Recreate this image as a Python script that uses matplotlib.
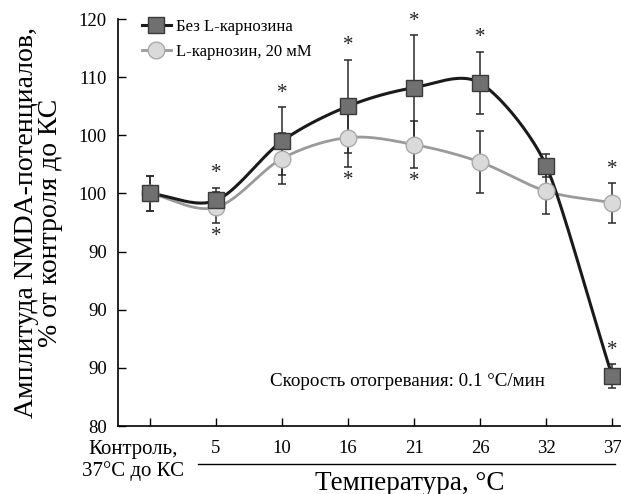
import numpy as np
import matplotlib
matplotlib.use('Agg')
import matplotlib.pyplot as plt
import matplotlib.transforms as mtransforms
from matplotlib.lines import Line2D

plt.rcParams['font.family'] = ['Liberation Serif', 'DejaVu Serif']

# data (in axis units)
temps = ['Контроль,\n37°C до КС', '5', '10', '16', '21', '26', '32', '37']
y_ticks = [80, 85, 90, 95, 100, 105, 110, 115]
y_tick_labels = ['80', '90', '90', '90', '100', '100', '110', '120']

no_carnosine = [100.0, 99.4, 104.5, 107.5, 109.1, 109.5, 102.4, 84.3]
no_carnosine_err = [1.5, 1.1, 2.9, 4.0, 4.5, 2.7, 1.0, 1.0]
carnosine = [100.0, 98.8, 103.0, 104.8, 104.2, 102.7, 100.2, 99.2]
carnosine_err = [1.5, 1.3, 2.2, 2.5, 2.0, 2.7, 2.0, 1.7]

stars_above_nc = [1, 2, 3, 4, 5, 7]
stars_above_c = [7]
stars_below_c = [1, 3, 4]


def smooth(xs, ys, sx=66.0, sy=11.63, n=40):
    # smoothed line like a spreadsheet chart: cubic bezier per segment,
    # control arms limited by the shorter neighbouring segment
    p = np.column_stack([np.asarray(xs, float) * sx, np.asarray(ys, float) * sy])
    k = len(p)
    d = np.linalg.norm(np.diff(p, axis=0), axis=1)
    tang = np.zeros_like(p)
    arm = np.zeros(k)
    for i in range(k):
        if i == 0:
            v = p[1] - p[0]
            arm[i] = d[0] / 3
        elif i == k - 1:
            v = p[-1] - p[-2]
            arm[i] = d[-1] / 3
        else:
            v = p[i + 1] - p[i - 1]
            arm[i] = min(d[i - 1], d[i]) / 3
        tang[i] = v / np.linalg.norm(v)
    out = []
    t = np.linspace(0, 1, n)[:, None]
    for i in range(k - 1):
        c1 = p[i] + tang[i] * arm[i]
        c2 = p[i + 1] - tang[i + 1] * arm[i + 1]
        seg = ((1 - t)**3 * p[i] + 3 * (1 - t)**2 * t * c1
               + 3 * (1 - t) * t**2 * c2 + t**3 * p[i + 1])
        out.append(seg)
    out = np.vstack(out)
    return out[:, 0] / sx, out[:, 1] / sy


fig = plt.figure(figsize=(6.21, 4.94), dpi=100)
ax = fig.add_axes([118 / 621, 1 - 426 / 494, 502 / 621, 407 / 494])

x = np.arange(len(temps))

c_dark = '#1a1a1a'
c_gray = '#9a9a9a'

# error bars first
ax.errorbar(x, carnosine, yerr=carnosine_err, fmt='none', ecolor='#2a2a2a',
            elinewidth=1.1, capsize=3.2, capthick=1.1, zorder=2)
ax.errorbar(x, no_carnosine, yerr=no_carnosine_err, fmt='none', ecolor='#2a2a2a',
            elinewidth=1.1, capsize=3.2, capthick=1.1, zorder=2)

sx, sy = smooth(x, carnosine)
ax.plot(sx, sy, color=c_gray, lw=2, zorder=3)
sx, sy = smooth(x, no_carnosine)
ax.plot(sx, sy, color=c_dark, lw=2.2, zorder=4)

ax.plot(x, carnosine, 'o', ms=12, mfc='#dadada', mec='#aaaaaa', mew=1, zorder=5)
ax.plot(x, no_carnosine, 's', ms=11, mfc='#707070', mec='#3a3a3a', mew=1, zorder=6)


# significance stars
def star(i, val, sign):
    ax.annotate('*', (x[i], val), xytext=(0, 10 * sign), textcoords='offset points',
                ha='center', va='center', fontsize=15, color='#222222')


for i in stars_above_nc:
    star(i, no_carnosine[i] + no_carnosine_err[i], 1)
for i in stars_above_c:
    star(i, carnosine[i] + carnosine_err[i], 1)
for i in stars_below_c:
    star(i, carnosine[i] - carnosine_err[i], -1)

ax.set_xlim(-0.485, 7.12)
ax.set_ylim(80, 115)
ax.set_yticks(y_ticks)
ax.set_yticklabels(y_tick_labels)
ax.set_xticks(x)
ax.set_xticklabels(temps)
ax.tick_params(direction='in', length=6, width=1, colors='black')
ax.tick_params(axis='x', pad=10, labelsize=13.5)
ax.tick_params(axis='y', pad=8, labelsize=13.5)
for s in ['top', 'right']:
    ax.spines[s].set_visible(False)
for s in ['left', 'bottom']:
    ax.spines[s].set_linewidth(1.2)

first = ax.get_xticklabels()[0]
first.set_fontsize(15)
first.set_multialignment('center')
first.set_linespacing(1.15)
first.set_transform(first.get_transform() + mtransforms.ScaledTranslation(-17 / 100, 0, fig.dpi_scale_trans))

ax.set_ylabel('Амплитуда NMDA-потенциалов,\n% от контроля до КС', fontsize=20, linespacing=0.95)
ax.yaxis.set_label_coords(-0.11, 0.5)

fig.text(410 / 621, 1 - 483 / 494, 'Температура, °C', ha='center', va='center', fontsize=19.5)
fig.add_artist(Line2D([198 / 621, 615 / 621], [1 - 464 / 494] * 2, color='black', lw=1))

ax.text(0.576, 0.11, 'Скорость отогревания: 0.1 °C/мин', transform=ax.transAxes,
        ha='center', va='center', fontsize=13.7)

h1 = Line2D([], [], color=c_dark, lw=2.2, marker='s', ms=11, mfc='#707070', mec='#3a3a3a')
h2 = Line2D([], [], color=c_gray, lw=2, marker='o', ms=12, mfc='#dadada', mec='#aaaaaa')
ax.legend([h1, h2], ['Без L-карнозина', 'L-карнозин, 20 мМ'], loc='upper left',
          bbox_to_anchor=(0.035, 1.016), frameon=False, fontsize=12, handlelength=1.7,
          labelspacing=0.55, handletextpad=0.3, borderaxespad=0)

fig.savefig('out.png', dpi=100)
